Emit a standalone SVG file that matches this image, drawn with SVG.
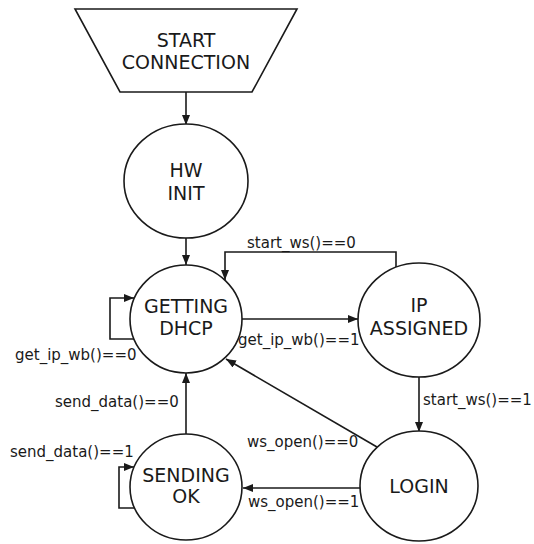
<svg xmlns="http://www.w3.org/2000/svg" width="534" height="544" viewBox="0 0 534 544">
<defs>
<marker id="arr" markerUnits="userSpaceOnUse" markerWidth="10" markerHeight="8" refX="10" refY="4" orient="auto">
<path d="M0,0 L10,4 L0,8 z" fill="#1a1a1a"/>
</marker>
<style>
.node{fill:#fff;stroke:#1a1a1a;stroke-width:1.6}
.nt{font-family:"DejaVu Sans",sans-serif;font-size:19px;fill:#1a1a1a;text-anchor:middle}
.lb{font-family:"DejaVu Sans",sans-serif;font-size:15px;fill:#1a1a1a}
.edge{fill:none;stroke:#1a1a1a;stroke-width:1.6;marker-end:url(#arr)}
.plain{fill:none;stroke:#1a1a1a;stroke-width:1.6}
</style>
</defs>
<rect width="534" height="544" fill="#fff"/>
<g id="connectors">
<path class="edge" d="M186,92 V125"/>
<path class="edge" d="M186,238 V265"/>
<path class="edge" d="M134,339 H110 V298 H134"/>
<path class="edge" d="M242,319 H358"/>
<path class="edge" d="M396,267 V252 H225 V280"/>
<path class="edge" d="M419,377 V432"/>
<path class="edge" d="M377,447 L226,359"/>
<path class="edge" d="M360,488 H243"/>
<path class="edge" d="M186,434 V373"/>
<path class="edge" d="M134,508 H119 V467 H134"/>
<text class="lb" x="247" y="248">start_ws()==0</text>
<text class="lb" x="15" y="360">get_ip_wb()==0</text>
<text class="lb" x="238" y="345">get_ip_wb()==1</text>
<text class="lb" x="423" y="405">start_ws()==1</text>
<text class="lb" x="247" y="447">ws_open()==0</text>
<text class="lb" x="248" y="507">ws_open()==1</text>
<text class="lb" x="55" y="407">send_data()==0</text>
<text class="lb" x="10" y="457">send_data()==1</text>
</g>
<g id="start">
<path class="node" d="M75,9 H297 L252,92 H120 Z"/>
<text class="nt" x="186" y="47">START</text>
<text class="nt" x="186" y="69">CONNECTION</text>
</g>
<g id="hwinit">
<ellipse class="node" cx="186" cy="181" rx="62" ry="57"/>
<text class="nt" x="186" y="177">HW</text>
<text class="nt" x="186" y="200">INIT</text>
</g>
<g id="getting">
<ellipse class="node" cx="186" cy="319" rx="56" ry="54"/>
<text class="nt" x="186" y="313">GETTING</text>
<text class="nt" x="186" y="335">DHCP</text>
</g>
<g id="ipassigned">
<ellipse class="node" cx="419" cy="320" rx="61" ry="57"/>
<text class="nt" x="419" y="312">IP</text>
<text class="nt" x="419" y="335">ASSIGNED</text>
</g>
<g id="login">
<ellipse class="node" cx="419" cy="486" rx="59" ry="55"/>
<text class="nt" x="419" y="493">LOGIN</text>
</g>
<g id="sending">
<ellipse class="node" cx="186" cy="487" rx="56" ry="53"/>
<text class="nt" x="186" y="482">SENDING</text>
<text class="nt" x="186" y="503">OK</text>
</g>
</svg>
